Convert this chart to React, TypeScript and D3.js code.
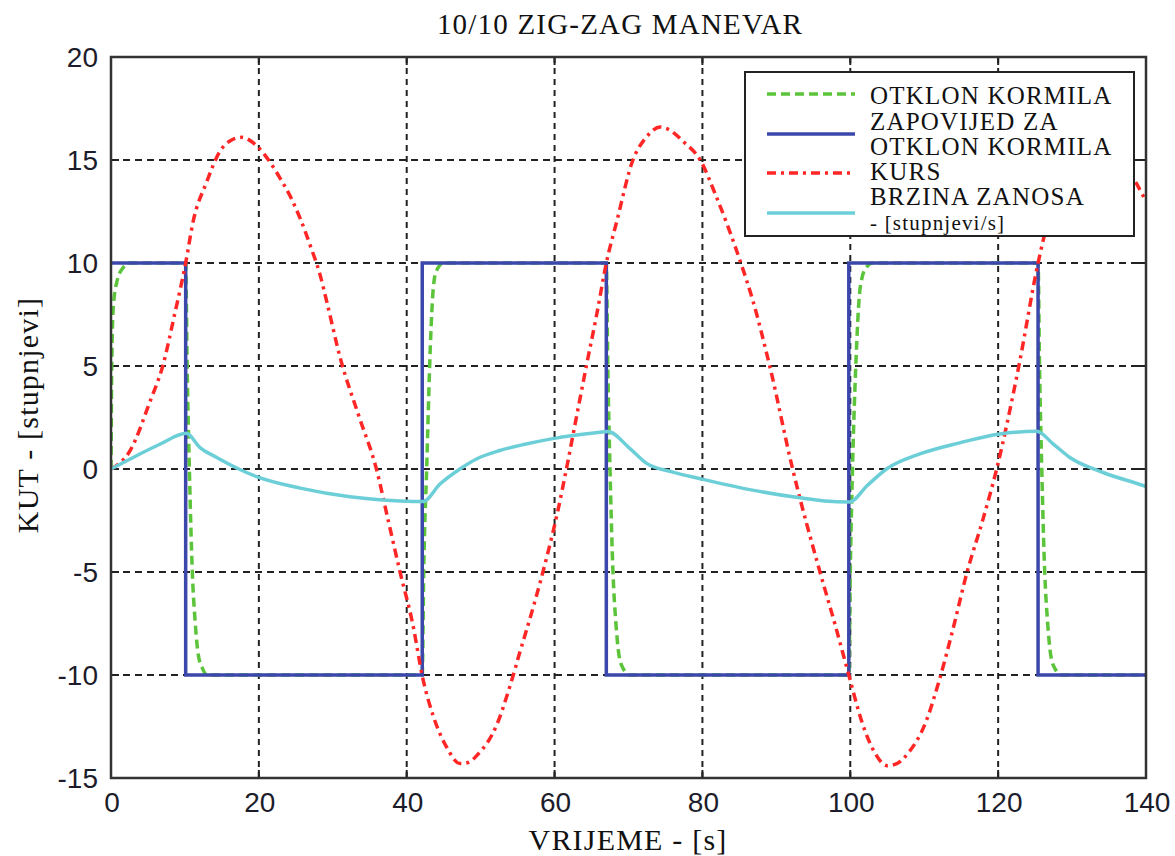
import React from "react";
import * as d3 from "d3";

// axis ticks
const timeTicks = [0, 20, 40, 60, 80, 100, 120, 140];
const angleTicks = [-15, -10, -5, 0, 5, 10, 15, 20];

// rudder command [t, deg]
const command: [number, number][] = [
  [0, 10], [10.1, 10], [10.1, -10], [42.1, -10], [42.1, 10], [67.0, 10],
  [67.0, -10], [99.8, -10], [99.8, 10], [125.4, 10], [125.4, -10], [140, -10],
];

// rudder deflection [t, deg]
const rudder: [number, number][] = [
  [0, 0], [0.1, 5], [0.3, 7.8], [0.8, 9.1], [1.7, 9.8], [2.6, 10],
  [10.1, 10], [10.3, 5], [10.6, 0], [11.0, -5], [11.4, -7.5], [11.8, -9], [12.4, -9.7], [13.0, -10],
  [42.1, -10], [42.3, -5], [42.7, 0], [43.2, 6], [43.6, 8.8], [44.0, 9.6], [45.0, 10],
  [67.0, 10], [67.2, 5], [67.5, 0], [67.9, -5], [68.3, -7.5], [68.7, -9], [69.3, -9.7], [70.2, -10],
  [99.8, -10], [100.0, -5], [100.3, 0], [100.8, 5.5], [101.2, 8.3], [101.6, 9.3], [102.2, 9.8], [103.0, 10],
  [125.4, 10], [125.6, 5], [125.9, 0], [126.3, -5], [126.7, -7.5], [127.1, -9], [127.7, -9.7], [128.6, -10],
  [140, -10],
];

// heading [t, deg]
const heading: [number, number][] = [
  [0, 0], [2.6, 0.9], [5.3, 3.3], [7.0, 5], [8.6, 7.5], [10.1, 10],
  [11.1, 12], [12.9, 13.9], [14.7, 15.4], [16.2, 15.95], [17.7, 16.1], [19.0, 15.9],
  [20.1, 15.55], [21.5, 14.9], [22.9, 14.1], [24.3, 13.2], [25.6, 12.15], [27.0, 10.8],
  [28.3, 9.4], [29.2, 8.1], [31.0, 5.4], [33.5, 2.6], [35.9, 0], [37.5, -2.5],
  [39.1, -5], [40.8, -7.5], [42.2, -10.2], [43.6, -12], [45.4, -13.5], [47.2, -14.3],
  [48.3, -14.25], [49.5, -13.9], [52.2, -12.4], [54.0, -10.5], [55.3, -8.9], [57.2, -6.6],
  [59.0, -4.2], [60.4, -2.1], [61.6, 0], [63.0, 2.6], [64.3, 5], [65.7, 7.5],
  [67.0, 10], [68.4, 12.0], [70.6, 15], [72.4, 16.1], [74.3, 16.6], [75.8, 16.4],
  [77.4, 15.9], [79.7, 15], [81.9, 13.2], [85.1, 10.1], [86.8, 8.2], [89.1, 5],
  [92.2, 0], [95.9, -5], [97.9, -7.5], [99.8, -10], [101.5, -12.2], [103.2, -13.7],
  [105.0, -14.4], [106.3, -14.3], [107.8, -13.8], [110.2, -12.3], [112.0, -10.3], [113.8, -7.9],
  [115.8, -5], [117.9, -2.5], [119.8, 0], [122.8, 5], [125.4, 10], [127.0, 12.4],
  [129.0, 14.8], [130.8, 16], [132.5, 16.5], [134.0, 16.3], [135.5, 15.8], [137.2, 14.8],
  [138.8, 13.8], [140, 13.0],
];

// yaw rate [t, deg/s]
const yawRate: [number, number][] = [
  [0, 0], [3.0, 0.56], [6.6, 1.2], [10.2, 1.73], [12.0, 1.05], [14.3, 0.56],
  [17.0, 0.05], [19.7, -0.37], [25.6, -0.93], [32.3, -1.35], [39.1, -1.55], [42.2, -1.58],
  [44.5, -0.73], [47.2, 0], [49.5, 0.5], [52.6, 0.9], [56.0, 1.2], [59.4, 1.45],
  [63.0, 1.65], [66.5, 1.8], [67.2, 1.82], [70.2, 0.99], [72.5, 0.26], [76.0, -0.15],
  [79.7, -0.47], [86.4, -1.0], [93.2, -1.4], [96.5, -1.55], [99.9, -1.6], [102.3, -0.8],
  [104.9, 0], [109.4, 0.73], [114.8, 1.27], [120.2, 1.7], [125.2, 1.83], [127.5, 1.2],
  [129.7, 0.56], [134.2, -0.17], [139.6, -0.8], [140, -0.85],
];

const legendLabels = [
  ["OTKLON KORMILA"],
  ["ZAPOVIJED ZA", "OTKLON KORMILA"],
  ["KURS"],
  ["BRZINA ZANOSA", "- [stupnjevi/s]"],
];

const W = 1175;
const H = 856;
const left = 111;
const right = 1146;
const top = 57;
const bottom = 778;

const serif = "'Liberation Serif', 'Times New Roman', serif";
const sans = "'Liberation Sans', Arial, sans-serif";

export default function App() {
  const x = d3.scaleLinear().domain([0, 140]).range([left, right]);
  const y = d3.scaleLinear().domain([-15, 20]).range([bottom, top]);
  const straight = d3
    .line<[number, number]>()
    .x((d) => x(d[0]))
    .y((d) => y(d[1]));
  const smooth = d3
    .line<[number, number]>()
    .x((d) => x(d[0]))
    .y((d) => y(d[1]))
    .curve(d3.curveMonotoneX);

  const series = [
    { data: rudder, color: "#5cc43a", dash: "9,5", gen: smooth },
    { data: command, color: "#3b47aa", dash: "", gen: straight },
    { data: heading, color: "#ff2626", dash: "9,5,3,5", gen: smooth },
    { data: yawRate, color: "#6ccfd8", dash: "", gen: smooth },
  ];

  // legend layout
  const lx = 745, ly = 72, lw = 389, lh = 164;
  const sampleY = [94, 134, 173, 213];
  const textY = [[104], [130, 155], [180], [205, 230]];

  return (
    <svg
      width={W}
      height={H}
      style={{ position: "absolute", left: 0, top: 0, background: "#fff" }}
    >
      <defs>
        <clipPath id="plot">
          <rect x={left} y={top} width={right - left} height={bottom - top} />
        </clipPath>
      </defs>

      <text x={620} y={34} textAnchor="middle" fontFamily={serif} fontSize={29}
        letterSpacing={1.2} fill="#111">
        10/10 ZIG-ZAG MANEVAR
      </text>

      {/* grid */}
      {angleTicks.slice(1, -1).map((v) => (
        <line key={"h" + v} x1={left} x2={right} y1={y(v)} y2={y(v)}
          stroke="#222" strokeWidth={2} strokeDasharray="7,5" />
      ))}
      {timeTicks.slice(1, -1).map((t) => (
        <line key={"v" + t} x1={x(t)} x2={x(t)} y1={top} y2={bottom}
          stroke="#222" strokeWidth={2} strokeDasharray="6,5" />
      ))}

      {/* inner ticks */}
      {angleTicks.map((v) => (
        <g key={"yt" + v}>
          <line x1={left} x2={left + 8} y1={y(v)} y2={y(v)} stroke="#222" strokeWidth={2} />
          <line x1={right - 8} x2={right} y1={y(v)} y2={y(v)} stroke="#222" strokeWidth={2} />
        </g>
      ))}
      {timeTicks.map((t) => (
        <g key={"xt" + t}>
          <line x1={x(t)} x2={x(t)} y1={bottom} y2={bottom - 8} stroke="#222" strokeWidth={2} />
          <line x1={x(t)} x2={x(t)} y1={top} y2={top + 8} stroke="#222" strokeWidth={2} />
        </g>
      ))}

      <g clipPath="url(#plot)">
        {series.map((s, i) => (
          <path key={i} d={s.gen(s.data) || ""} fill="none" stroke={s.color}
            strokeWidth={3.5} strokeDasharray={s.dash || undefined} />
        ))}
      </g>

      {/* frame */}
      <rect x={left} y={top} width={right - left} height={bottom - top}
        fill="none" stroke="#333" strokeWidth={2.5} />

      {/* tick labels */}
      {angleTicks.map((v) => (
        <text key={"yl" + v} x={98} y={y(v)} dy="0.36em" textAnchor="end"
          fontFamily={sans} fontSize={28} fill="#1c1c2a">{v}</text>
      ))}
      {timeTicks.map((t) => (
        <text key={"xl" + t} x={x(t) + 1} y={812} textAnchor="middle"
          fontFamily={sans} fontSize={28} fill="#1c1c2a">{t}</text>
      ))}

      <text x={628} y={850} textAnchor="middle" fontFamily={serif} fontSize={30}
        letterSpacing={1.2} fill="#111">
        VRIJEME - [s]
      </text>
      <text transform={`translate(38, 415) rotate(-90)`} textAnchor="middle"
        fontFamily={serif} fontSize={30} letterSpacing={1.2} fill="#111">
        KUT - [stupnjevi]
      </text>

      {/* legend */}
      <rect x={lx} y={ly} width={lw} height={lh} fill="#fff" stroke="#222" strokeWidth={2} />
      {series.map((s, i) => (
        <g key={"lg" + i}>
          <line x1={767} x2={855} y1={sampleY[i]} y2={sampleY[i]} stroke={s.color}
            strokeWidth={3.5} strokeDasharray={s.dash || undefined} />
          {legendLabels[i].map((txt, j) => (
            <text key={j} x={870} y={textY[i][j]} fontFamily={serif}
              fontSize={i === 3 && j === 1 ? 21 : 25} letterSpacing={i === 3 && j === 1 ? 1.2 : 1.2}
              fill="#111">{txt}</text>
          ))}
        </g>
      ))}
    </svg>
  );
}
